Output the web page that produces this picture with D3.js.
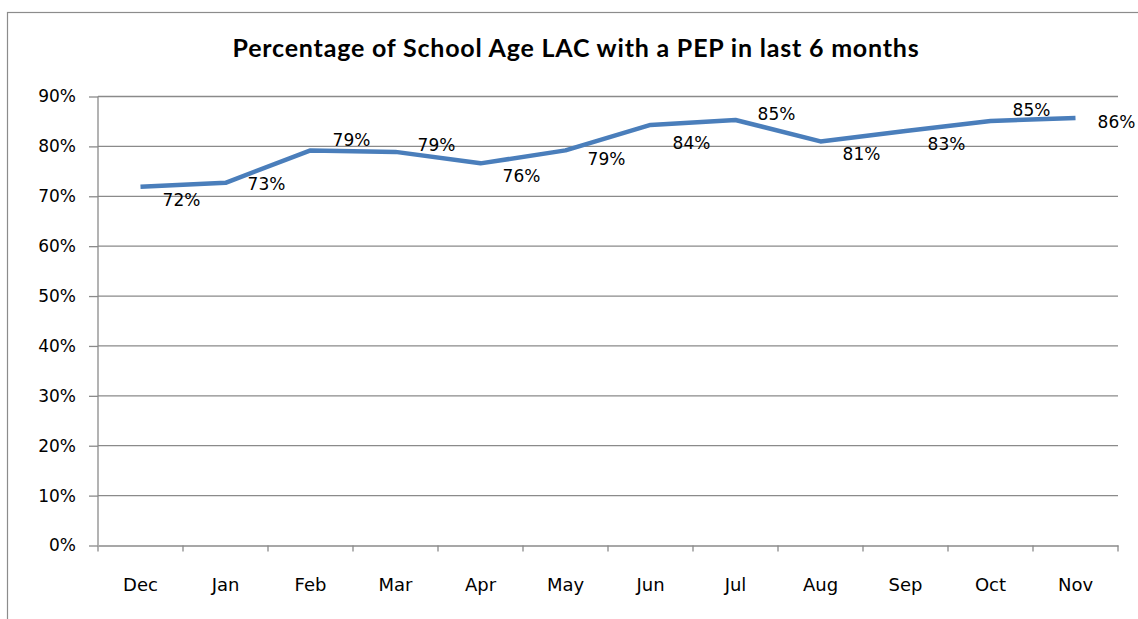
<!DOCTYPE html>
<html>
<head>
<meta charset="utf-8">
<script src="https://cdn.jsdelivr.net/npm/d3@7"></script>
<style>
  body { margin: 0; background: #fff; }
  svg { display: block; }
</style>
</head>
<body>
<div id="chart"></div>
<script>
// data
const months = ["Dec", "Jan", "Feb", "Mar", "Apr", "May", "Jun", "Jul", "Aug", "Sep", "Oct", "Nov"];
const pepRate = [0.719, 0.727, 0.792, 0.789, 0.766, 0.792, 0.843, 0.853, 0.810, 0.831, 0.851, 0.857];
const pepLabels = ["72%", "73%", "79%", "79%", "76%", "79%", "84%", "85%", "81%", "83%", "85%", "86%"];
const yTicks = [0, 0.1, 0.2, 0.3, 0.4, 0.5, 0.6, 0.7, 0.8, 0.9];
// label nudges (px, vertical) as they were placed in the original
const labelDy = [13, 1, -10, -7, 13, 9, 18, -6, 13, 13, -11, 4];

const width = 1138, height = 619;
const margin = {top: 96.5, right: 20, bottom: 73.5, left: 98};

const svg = d3.select("#chart").append("svg")
    .attr("width", width)
    .attr("height", height);

// chart border
svg.append("rect")
    .attr("x", 7.5).attr("y", 12.5)
    .attr("width", 1138).attr("height", 640)
    .attr("fill", "none")
    .attr("stroke", "#8c8c8c")
    .attr("stroke-width", 1.2);

svg.append("text")
    .attr("x", 576).attr("y", 57)
    .attr("text-anchor", "middle")
    .attr("font-family", "Lato, sans-serif")
    .attr("font-weight", "bold")
    .attr("font-size", 25)
    .attr("letter-spacing", 0.8)
    .attr("fill", "#000")
    .text("Percentage of School Age LAC with a PEP in last 6 months");

const x = d3.scaleBand()
    .domain(months)
    .range([margin.left, width - margin.right]);

const y = d3.scaleLinear()
    .domain([0, 0.9])
    .range([height - margin.bottom, margin.top]);

// gridlines
svg.append("g")
    .selectAll("line")
    .data(yTicks.slice(1))
    .enter().append("line")
    .attr("x1", margin.left).attr("x2", width - margin.right)
    .attr("y1", d => y(d)).attr("y2", d => y(d))
    .attr("stroke", "#8a8a8a")
    .attr("stroke-width", 1.3);

// y axis
const yAxis = svg.append("g")
    .attr("transform", `translate(${margin.left},0)`)
    .call(d3.axisLeft(y).tickValues(yTicks).tickFormat(d3.format(".0%")).tickSize(9).tickPadding(13));

// x axis, ticks on the category boundaries
const xAxis = svg.append("g")
    .attr("transform", `translate(0,${y(0)})`)
    .call(d3.axisBottom(x).tickSize(0).tickPadding(33));

xAxis.selectAll(".boundary")
    .data(d3.range(months.length + 1))
    .enter().append("line")
    .attr("class", "boundary")
    .attr("x1", i => margin.left + i * x.step())
    .attr("x2", i => margin.left + i * x.step())
    .attr("y1", 0).attr("y2", 6);

[yAxis, xAxis].forEach(ax => {
    ax.select(".domain").attr("stroke", "#8a8a8a").attr("stroke-width", 1.3);
    ax.selectAll("line").attr("stroke", "#8a8a8a").attr("stroke-width", 1.3);
    ax.selectAll("text")
        .attr("font-family", "DejaVu Sans, sans-serif")
        .attr("font-size", 17)
        .attr("fill", "#000");
});
xAxis.selectAll("text").attr("font-size", 18);
yAxis.select(".domain").attr("d", `M0,${y(0)}V${y(0.9)}`);

const line = d3.line()
    .x((d, i) => x(months[i]) + x.bandwidth() / 2)
    .y(d => y(d));

svg.append("path")
    .datum(pepRate)
    .attr("d", line)
    .attr("fill", "none")
    .attr("stroke", "#4a7ebb")
    .attr("stroke-width", 4.5)
    .attr("stroke-linejoin", "round");

svg.append("g")
    .selectAll("text")
    .data(pepRate)
    .enter().append("text")
    .attr("x", (d, i) => x(months[i]) + x.bandwidth() / 2 + 41)
    .attr("y", (d, i) => y(d) + labelDy[i])
    .attr("dy", "0.35em")
    .attr("text-anchor", "middle")
    .attr("font-family", "DejaVu Sans, sans-serif")
    .attr("font-size", 17)
    .attr("fill", "#000")
    .text((d, i) => pepLabels[i]);
</script>
</body>
</html>
